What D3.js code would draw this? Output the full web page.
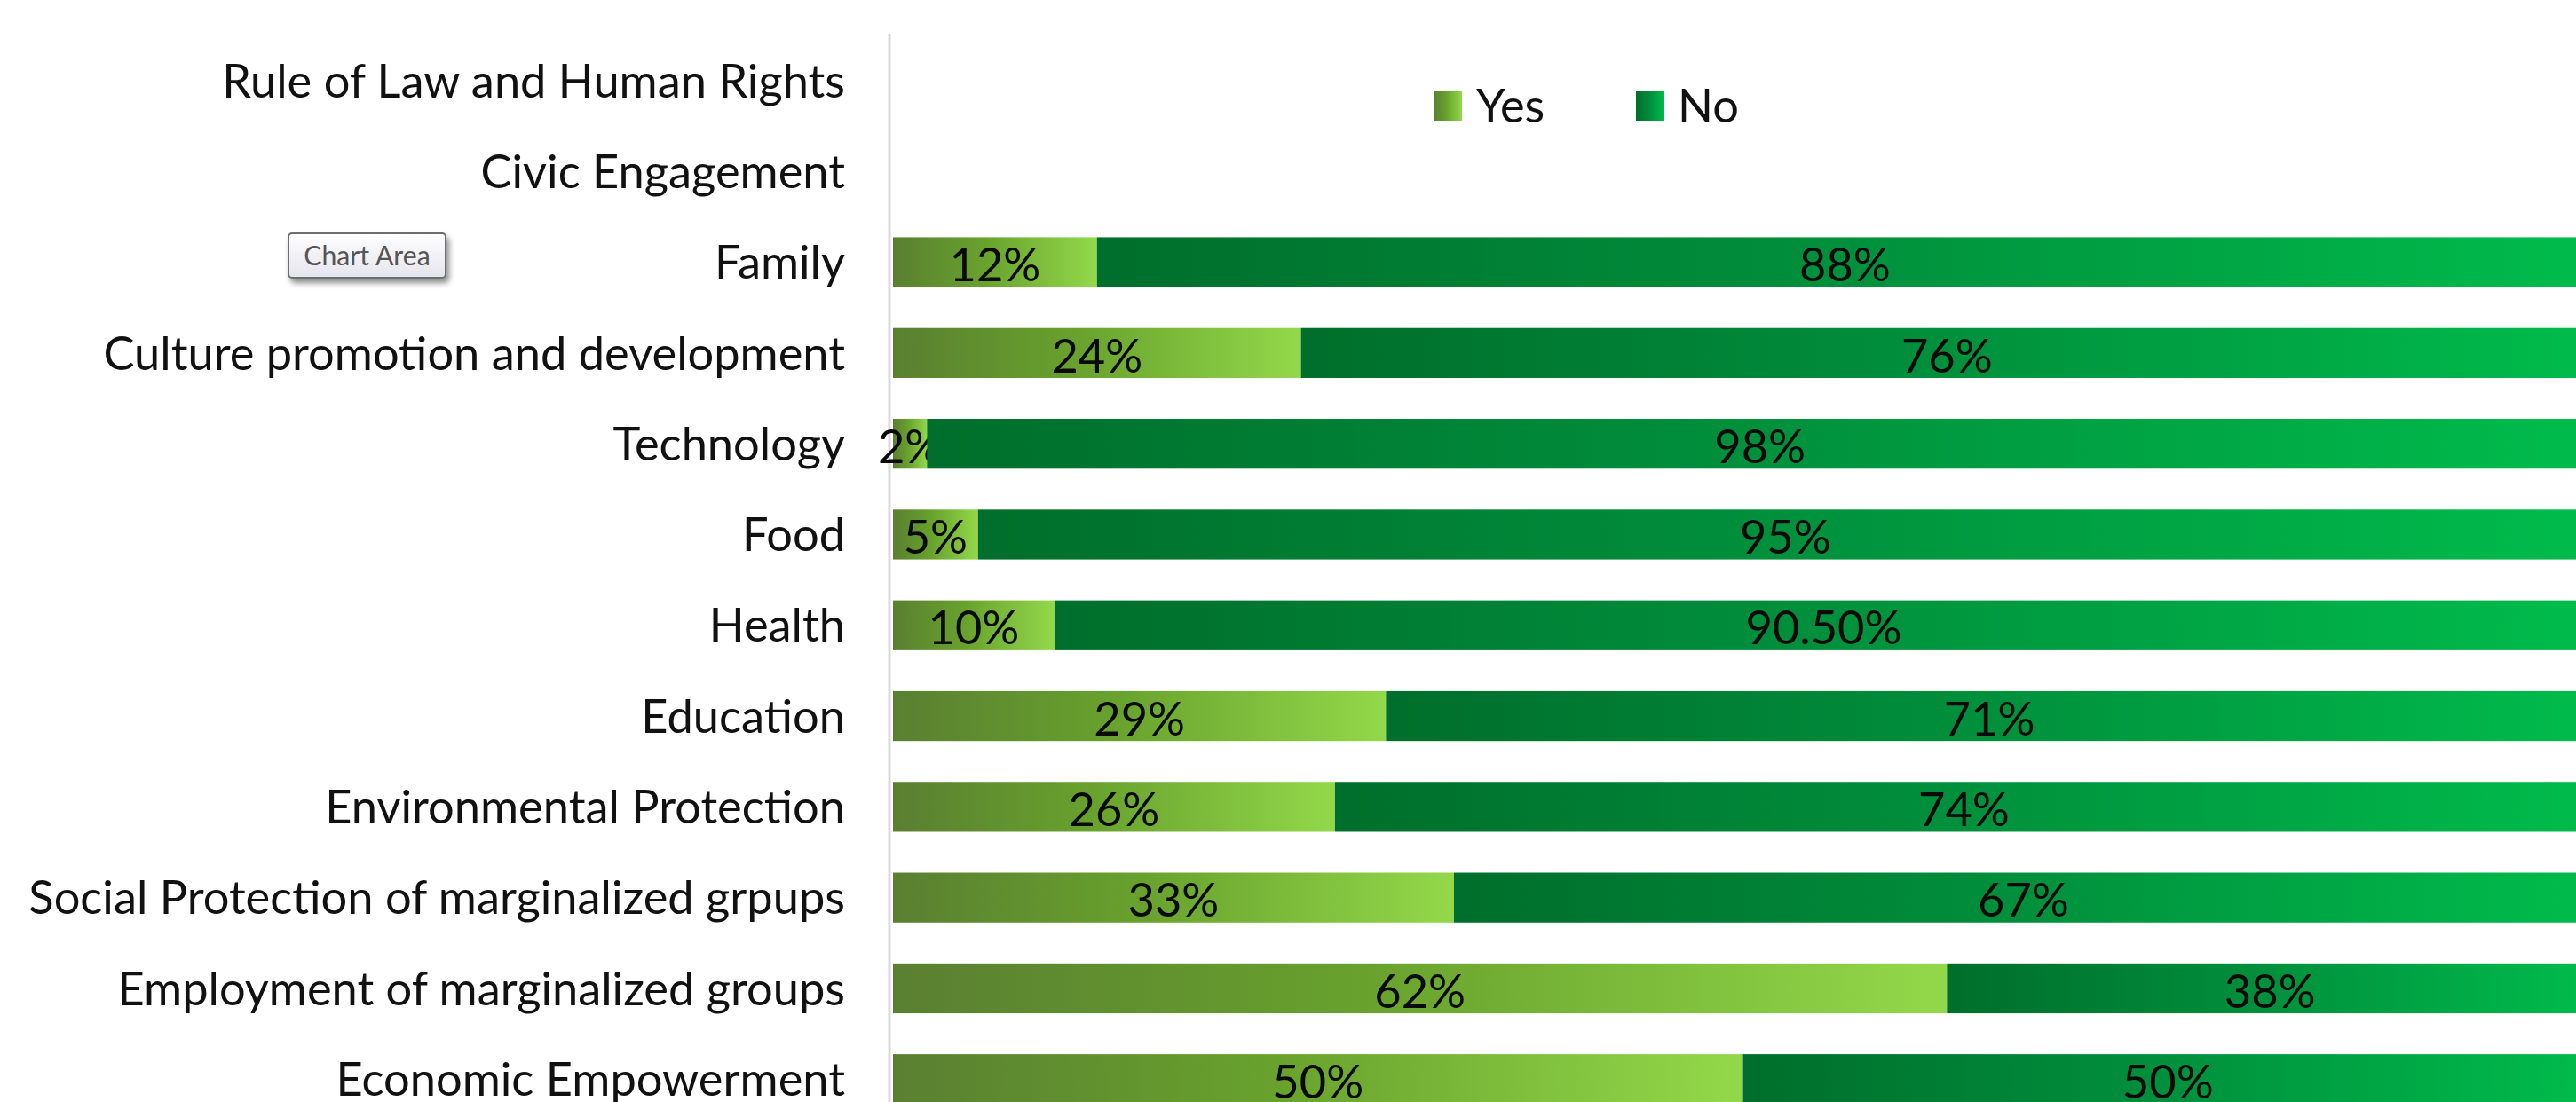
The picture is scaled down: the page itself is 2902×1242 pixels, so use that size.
<!DOCTYPE html>
<html>
<head>
<meta charset="utf-8">
<script src="https://cdn.jsdelivr.net/npm/d3@7"></script>
<style>
  html, body { margin: 0; padding: 0; background: #ffffff; overflow: hidden; }
  svg { display: block; }
  text { font-family: "Lato", "Open Sans", sans-serif; }
</style>
</head>
<body>
<svg id="chart" width="2902" height="1242"></svg>
<script>
// ---------- data ----------
const categories = [
  "Rule of Law and Human Rights",
  "Civic Engagement",
  "Family",
  "Culture promotion and development",
  "Technology",
  "Food",
  "Health",
  "Education",
  "Environmental Protection",
  "Social Protection of marginalized grpups",
  "Employment of marginalized groups",
  "Economic Empowerment"
];
const seriesNames = ["Yes", "No"];
const yesValues = [null, null, 0.12, 0.24, 0.02, 0.05, 0.095, 0.29, 0.26, 0.33, 0.62, 0.50];
const noValues  = [null, null, 0.88, 0.76, 0.98, 0.95, 0.905, 0.71, 0.74, 0.67, 0.38, 0.50];
const yesLabels = ["", "", "12%", "24%", "2%", "5%", "10%", "29%", "26%", "33%", "62%", "50%"];
const noLabels  = ["", "", "88%", "76%", "98%", "95%", "90.50%", "71%", "74%", "67%", "38%", "50%"];

// ---------- setup ----------
const W = 2902, H = 1242;
const svg = d3.select("#chart");
const defs = svg.append("defs");

const gradYes = defs.append("linearGradient").attr("id", "gYes")
  .attr("x1", "0%").attr("x2", "100%").attr("y1", "0%").attr("y2", "0%");
gradYes.append("stop").attr("offset", "0%").attr("stop-color", "#5a7f31");
gradYes.append("stop").attr("offset", "45%").attr("stop-color", "#68a22d");
gradYes.append("stop").attr("offset", "100%").attr("stop-color", "#93d84a");

const gradNo = defs.append("linearGradient").attr("id", "gNo")
  .attr("x1", "0%").attr("x2", "100%").attr("y1", "0%").attr("y2", "0%");
gradNo.append("stop").attr("offset", "0%").attr("stop-color", "#006e2c");
gradNo.append("stop").attr("offset", "50%").attr("stop-color", "#00903c");
gradNo.append("stop").attr("offset", "100%").attr("stop-color", "#00bc4c");

const gradBox = defs.append("linearGradient").attr("id", "gBox")
  .attr("x1", "0%").attr("x2", "0%").attr("y1", "0%").attr("y2", "100%");
gradBox.append("stop").attr("offset", "0%").attr("stop-color", "#ffffff");
gradBox.append("stop").attr("offset", "100%").attr("stop-color", "#e4e4ec");

const shadow = defs.append("filter").attr("id", "shadow")
  .attr("x", "-20%").attr("y", "-20%").attr("width", "150%").attr("height", "170%");
shadow.append("feDropShadow").attr("dx", 3).attr("dy", 5).attr("stdDeviation", 3)
  .attr("flood-color", "#000").attr("flood-opacity", 0.45);

const fills = { Yes: "url(#gYes)", No: "url(#gNo)" };

// scales
const x = d3.scaleLinear().domain([0, 1]).range([1006, 2921]);
const y = d3.scaleBand().domain(categories)
  .range([39.8, 1267.4]).paddingInner(0.45).paddingOuter(0.225);

// font scale (condensed look similar to Calibri)
const FS = 52;
const probe = svg.append("text").attr("font-size", FS).text("Rule of Law and Human Rights");
const k = 702 / probe.node().getComputedTextLength();
probe.remove();

// ---------- axis line ----------
svg.append("line")
  .attr("x1", 1002).attr("x2", 1002).attr("y1", 38).attr("y2", H)
  .attr("stroke", "#d9d9d9").attr("stroke-width", 3);

// ---------- category labels ----------
svg.append("g").selectAll("text").data(categories).join("text")
  .attr("transform", d => `translate(952,${y(d) + y.bandwidth() / 2}) scale(${k},1)`)
  .attr("text-anchor", "end")
  .attr("dy", "0.36em")
  .attr("font-size", FS)
  .attr("fill", "#111")
  .text(d => d);

// ---------- stacked bars ----------
const rows = categories.map((c, i) => ({
  cat: c, Yes: yesValues[i], No: noValues[i], yesLabel: yesLabels[i], noLabel: noLabels[i]
})).filter(r => r.Yes != null);

const stack = d3.stack().keys(seriesNames);
const series = stack(rows);

const gSeries = svg.append("g").selectAll("g").data(series).join("g")
  .attr("fill", s => fills[s.key]);

gSeries.selectAll("rect").data(s => s).join("rect")
  .attr("x", d => x(d[0]))
  .attr("y", d => y(d.data.cat))
  .attr("width", d => x(d[1]) - x(d[0]))
  .attr("height", y.bandwidth());

// ---------- data labels ----------
gSeries.selectAll("text").data(s => s.map(d => ({ d, key: s.key }))).join("text")
  .attr("transform", o => `translate(${(x(o.d[0]) + x(o.d[1])) / 2},${y(o.d.data.cat) + y.bandwidth() / 2 + 3}) scale(${k},1)`)
  .attr("text-anchor", "middle")
  .attr("dy", "0.36em")
  .attr("font-size", FS)
  .attr("fill", "#0a0a0a")
  .text(o => o.key === "Yes" ? o.d.data.yesLabel : o.d.data.noLabel);

// ---------- legend ----------
const legendPos = [
  { key: "Yes", mx: 1615, tx: 1663 },
  { key: "No",  mx: 1843, tx: 1890 }
];
const lg = svg.append("g").selectAll("g").data(legendPos).join("g");
lg.append("rect")
  .attr("x", d => d.mx).attr("y", 102).attr("width", 32).attr("height", 34)
  .attr("fill", d => fills[d.key]);
lg.append("text")
  .attr("transform", d => `translate(${d.tx},119) scale(${k},1)`)
  .attr("dy", "0.36em")
  .attr("font-size", FS)
  .attr("fill", "#111")
  .text(d => d.key);

// ---------- "Chart Area" tooltip ----------
const tip = svg.append("g");
tip.append("rect")
  .attr("x", 325).attr("y", 263).attr("width", 177).attr("height", 50).attr("rx", 4)
  .attr("fill", "url(#gBox)").attr("stroke", "#6e6e6e").attr("stroke-width", 2)
  .attr("filter", "url(#shadow)");
tip.append("text")
  .attr("transform", `translate(413.5,288) scale(${k},1)`)
  .attr("text-anchor", "middle").attr("dy", "0.36em")
  .attr("font-size", 30).attr("fill", "#555")
  .text("Chart Area");
</script>
</body>
</html>
